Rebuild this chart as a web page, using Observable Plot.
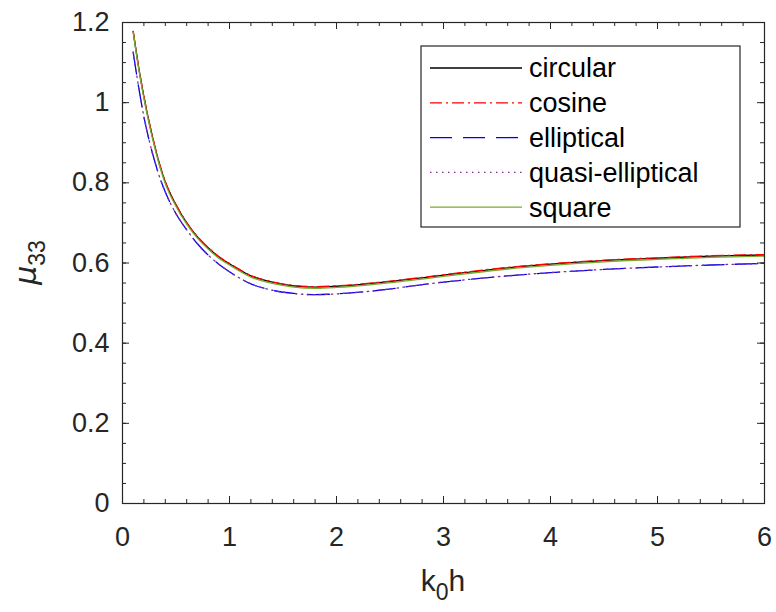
<!DOCTYPE html>
<html>
<head>
<meta charset="utf-8">
<script src="https://cdn.jsdelivr.net/npm/d3@7"></script>
<script src="https://cdn.jsdelivr.net/npm/@observablehq/plot@0.6"></script>
<style>
  html, body { margin: 0; padding: 0; background: #fff; }
  #chart svg { display: block; }
</style>
</head>
<body>
<div id="chart"></div>
<script>
// ---- data ----
const kh = [0.1, 0.15, 0.2, 0.25, 0.3, 0.35, 0.4, 0.5, 0.6, 0.7, 0.8, 0.9, 1.0, 1.2, 1.4, 1.6, 1.8, 2.0, 2.4, 2.8, 3.2, 3.6, 4.0, 4.5, 5.0, 5.5, 6.0];
const circular = [1.178, 1.090, 1.015, 0.950, 0.893, 0.843, 0.802, 0.745, 0.700, 0.665, 0.638, 0.615, 0.598, 0.568, 0.552, 0.543, 0.540, 0.542, 0.551, 0.563, 0.576, 0.588, 0.597, 0.606, 0.612, 0.617, 0.620];
const cosine = [1.178, 1.091, 1.016, 0.951, 0.894, 0.844, 0.803, 0.746, 0.701, 0.666, 0.639, 0.616, 0.599, 0.569, 0.553, 0.544, 0.541, 0.543, 0.552, 0.564, 0.577, 0.589, 0.598, 0.607, 0.613, 0.618, 0.621];
const elliptical = [1.126, 1.040, 0.965, 0.905, 0.855, 0.812, 0.777, 0.723, 0.683, 0.648, 0.620, 0.597, 0.578, 0.548, 0.532, 0.524, 0.521, 0.523, 0.532, 0.546, 0.558, 0.568, 0.576, 0.584, 0.590, 0.595, 0.599];
const quasiElliptical = [1.126, 1.040, 0.965, 0.905, 0.854, 0.812, 0.777, 0.723, 0.683, 0.648, 0.620, 0.597, 0.578, 0.548, 0.532, 0.524, 0.521, 0.523, 0.532, 0.546, 0.558, 0.568, 0.576, 0.584, 0.590, 0.595, 0.599];
const square = [1.176, 1.087, 1.011, 0.946, 0.889, 0.839, 0.798, 0.741, 0.697, 0.662, 0.635, 0.612, 0.595, 0.565, 0.549, 0.540, 0.537, 0.539, 0.548, 0.560, 0.573, 0.585, 0.594, 0.603, 0.609, 0.614, 0.617];

const seriesNames = ["circular", "cosine", "elliptical", "quasi-elliptical", "square"];
const seriesValues = [circular, cosine, elliptical, quasiElliptical, square];
const seriesColors = ["#000000", "#ff0000", "#0000ff", "#7e2f8e", "#77ac30"];
const seriesDash = [null, "12,4,2,4", "22,11", "1.5,4.5", null];

const xTicks = [0, 1, 2, 3, 4, 5, 6];
const xMinor = d3.range(0, 6.001, 0.2);
const yTicks = [0, 0.2, 0.4, 0.6, 0.8, 1, 1.2];
const yMinor = d3.range(0, 1.2001, 0.05);

// ---- layout ----
const W = 776, H = 612;
const mL = 122, mR = 12, mT = 22, mB = 109;
const innerW = W - mL - mR, innerH = H - mT - mB;
const font = "'Liberation Sans', Arial, Helvetica, sans-serif";
const axisColor = "#262626";

const rows = [];
seriesNames.forEach((name, i) => {
  kh.forEach((x, j) => rows.push({series: name, x, y: seriesValues[i][j]}));
});

const lineMarks = seriesNames.map((name, i) =>
  Plot.line(rows.filter(r => r.series === name), {
    x: "x", y: "y", stroke: seriesColors[i], strokeWidth: 1.3,
    strokeDasharray: seriesDash[i], curve: "monotone-x"
  })
);

const tickMarks = [
  Plot.tickX(xMinor, {x: d => d, insetTop: innerH - 4, stroke: axisColor, strokeWidth: 1}),
  Plot.tickX(xMinor, {x: d => d, insetBottom: innerH - 4, stroke: axisColor, strokeWidth: 1}),
  Plot.tickX(xTicks, {x: d => d, insetTop: innerH - 7, stroke: axisColor, strokeWidth: 1}),
  Plot.tickX(xTicks, {x: d => d, insetBottom: innerH - 7, stroke: axisColor, strokeWidth: 1}),
  Plot.tickY(yMinor, {y: d => d, insetRight: innerW - 4, stroke: axisColor, strokeWidth: 1}),
  Plot.tickY(yMinor, {y: d => d, insetLeft: innerW - 4, stroke: axisColor, strokeWidth: 1}),
  Plot.tickY(yTicks, {y: d => d, insetRight: innerW - 7, stroke: axisColor, strokeWidth: 1}),
  Plot.tickY(yTicks, {y: d => d, insetLeft: innerW - 7, stroke: axisColor, strokeWidth: 1})
];

const chart = Plot.plot({
  width: W, height: H,
  marginLeft: mL, marginRight: mR, marginTop: mT, marginBottom: mB,
  style: {fontFamily: font, background: "#fff", color: axisColor},
  x: {domain: [0, 6]},
  y: {domain: [0, 1.2]},
  marks: [
    ...lineMarks,
    ...tickMarks,
    Plot.frame({stroke: axisColor, strokeWidth: 1.2}),
    Plot.axisX(xTicks, {tickSize: 0, tickPadding: 23, fontSize: 27, label: null, tickFormat: d => String(d), fill: axisColor}),
    Plot.axisY(yTicks, {tickSize: 0, tickPadding: 13, fontSize: 27, label: null, tickFormat: d => String(d), fill: axisColor})
  ]
});

document.getElementById("chart").appendChild(chart);

// ---- axis titles with subscripts ----
const svg = d3.select(chart);
const xl = svg.append("text")
  .attr("x", mL + innerW / 2).attr("y", 591)
  .attr("text-anchor", "middle")
  .attr("font-family", font).attr("font-size", 30).attr("fill", axisColor);
xl.append("tspan").text("k");
xl.append("tspan").attr("dy", 9).attr("font-size", 23).text("0");
xl.append("tspan").attr("dy", -9).text("h");

const yl = svg.append("text")
  .attr("transform", `translate(36, ${mT + innerH / 2}) rotate(-90)`)
  .attr("text-anchor", "middle")
  .attr("font-family", font).attr("font-size", 30).attr("fill", axisColor);
yl.append("tspan").attr("font-family", "'DejaVu Sans', sans-serif").attr("font-style", "italic").text("μ");
yl.append("tspan").attr("dy", 9).attr("font-size", 23).text("33");

// ---- legend ----
const lg = svg.append("g").attr("text-anchor", "start");
const lgX = 421, lgY = 46, lgW = 319, lgH = 181;
lg.append("rect").attr("x", lgX).attr("y", lgY).attr("width", lgW).attr("height", lgH)
  .attr("fill", "#fff").attr("stroke", axisColor).attr("stroke-width", 1.2);
seriesNames.forEach((name, i) => {
  const cy = lgY + 22 + i * 34.8;
  lg.append("line").attr("x1", 430).attr("x2", 522).attr("y1", cy).attr("y2", cy)
    .attr("stroke", seriesColors[i]).attr("stroke-width", 1.3)
    .attr("stroke-dasharray", seriesDash[i]);
  lg.append("text").attr("x", 529).attr("y", cy).attr("dy", "0.35em")
    .attr("text-anchor", "start")
    .attr("font-family", font).attr("font-size", 27).attr("fill", "#000").text(name);
});
</script>
</body>
</html>
